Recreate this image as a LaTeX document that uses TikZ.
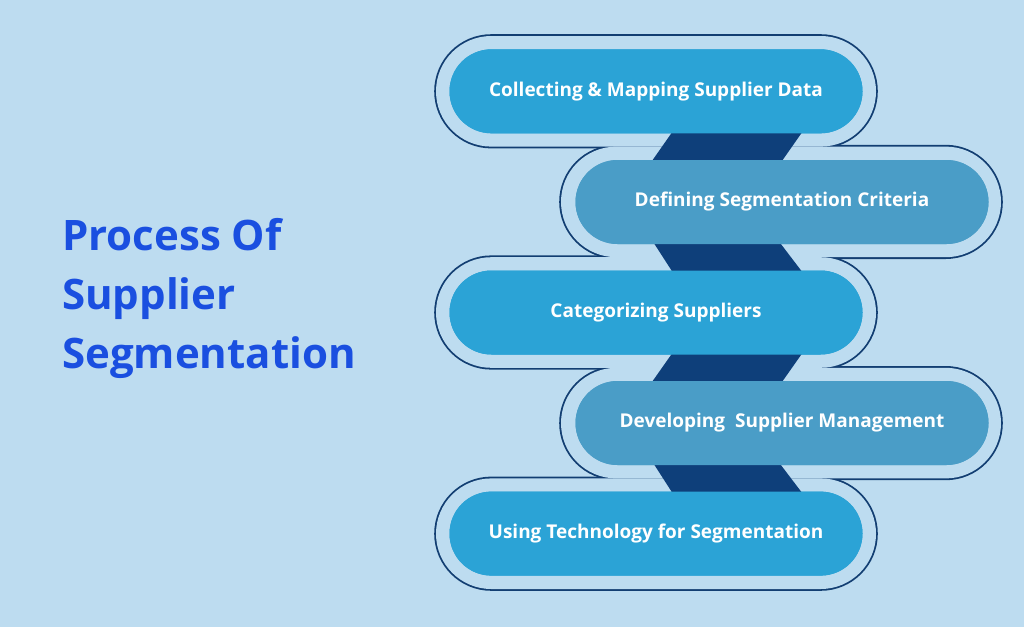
\documentclass[tikz,border=0pt]{standalone}
\usepackage{fontspec}
\setmainfont{Open Sans}
\usetikzlibrary{shapes.misc,calc,positioning}
\definecolor{bgblue}{HTML}{BDDCF0}
\definecolor{edgeblue}{HTML}{123E72}
\definecolor{oddblue}{HTML}{2BA3D6}
\definecolor{evenblue}{HTML}{4A9DC7}
\definecolor{linkblue}{HTML}{0E3F7A}
\definecolor{titleblue}{HTML}{1A4FE0}
\tikzset{
    outersty/.style={rounded rectangle,minimum width=440pt,minimum height=110.6pt,inner sep=0pt},
    rimsty/.style={outersty,draw=edgeblue,line width=3.6pt},
    holesty/.style={outersty,fill=bgblue},
    stepsty/.style={rounded rectangle,minimum width=413pt,minimum height=84pt,inner sep=0pt,
                    text=white,font=\bfseries\fontsize{19}{22}\selectfont},
    oddsty/.style={stepsty,fill=oddblue},
    evensty/.style={stepsty,fill=evenblue},
    linksty/.style={fill=linkblue},
}
\begin{document}
\begin{tikzpicture}[x=1pt,y=-1pt]
\fill[bgblue] (0,0) rectangle (1024,627);
\useasboundingbox (0,0) rectangle (1024,627);
% outline snake
\foreach \i/\x in {0/656,1/781,2/656,3/781,4/656} {
  \node[rimsty] at (\x,91.3+110.6*\i) {};
}
\foreach \i/\x in {0/656,1/781,2/656,3/781,4/656} {
  \node[holesty] at (\x,91.3+110.6*\i) {};
}
% steps
\node[oddsty]  (s1) at (656,91.3)  {Collecting \& Mapping Supplier Data};
\node[evensty] (s2) at (782,202)   {Defining Segmentation Criteria};
\node[oddsty]  (s3) at (656,312.5) {Categorizing Suppliers};
\node[evensty] (s4) at (782,423)   {Developing\ \ Supplier Management};
\node[oddsty]  (s5) at (656,533.6) {Using Technology for Segmentation};
% links behind the steps
\begin{scope}[on background layer/.code={}]
\end{scope}
\foreach \a/\b in {s1/s2,s3/s4} {
  \fill[linksty] ($(\a.south)+(18,-4)$) -- ($(\a.south)+(148,-4)$)
     -- ($(\b.north)+(-2,4)$) -- ($(\b.north)+(-132,4)$) -- cycle;
}
\foreach \a/\b in {s2/s3,s4/s5} {
  \fill[linksty] ($(\a.south)+(-130,-4)$) -- ($(\a.south)+(-4,-4)$)
     -- ($(\b.north)+(148,4)$) -- ($(\b.north)+(18,4)$) -- cycle;
}
% redraw steps on top
\node[oddsty]  at (s1) {Collecting \& Mapping Supplier Data};
\node[evensty] at (s2) {Defining Segmentation Criteria};
\node[oddsty]  at (s3) {Categorizing Suppliers};
\node[evensty] at (s4) {Developing\ \ Supplier Management};
\node[oddsty]  at (s5) {Using Technology for Segmentation};
% title
\node[anchor=west,text=titleblue,font=\bfseries\fontsize{42}{59}\selectfont,
      align=left,inner sep=0pt] (title) at (62,298) {Process Of\\Supplier\\Segmentation};
\end{tikzpicture}
\end{document}
